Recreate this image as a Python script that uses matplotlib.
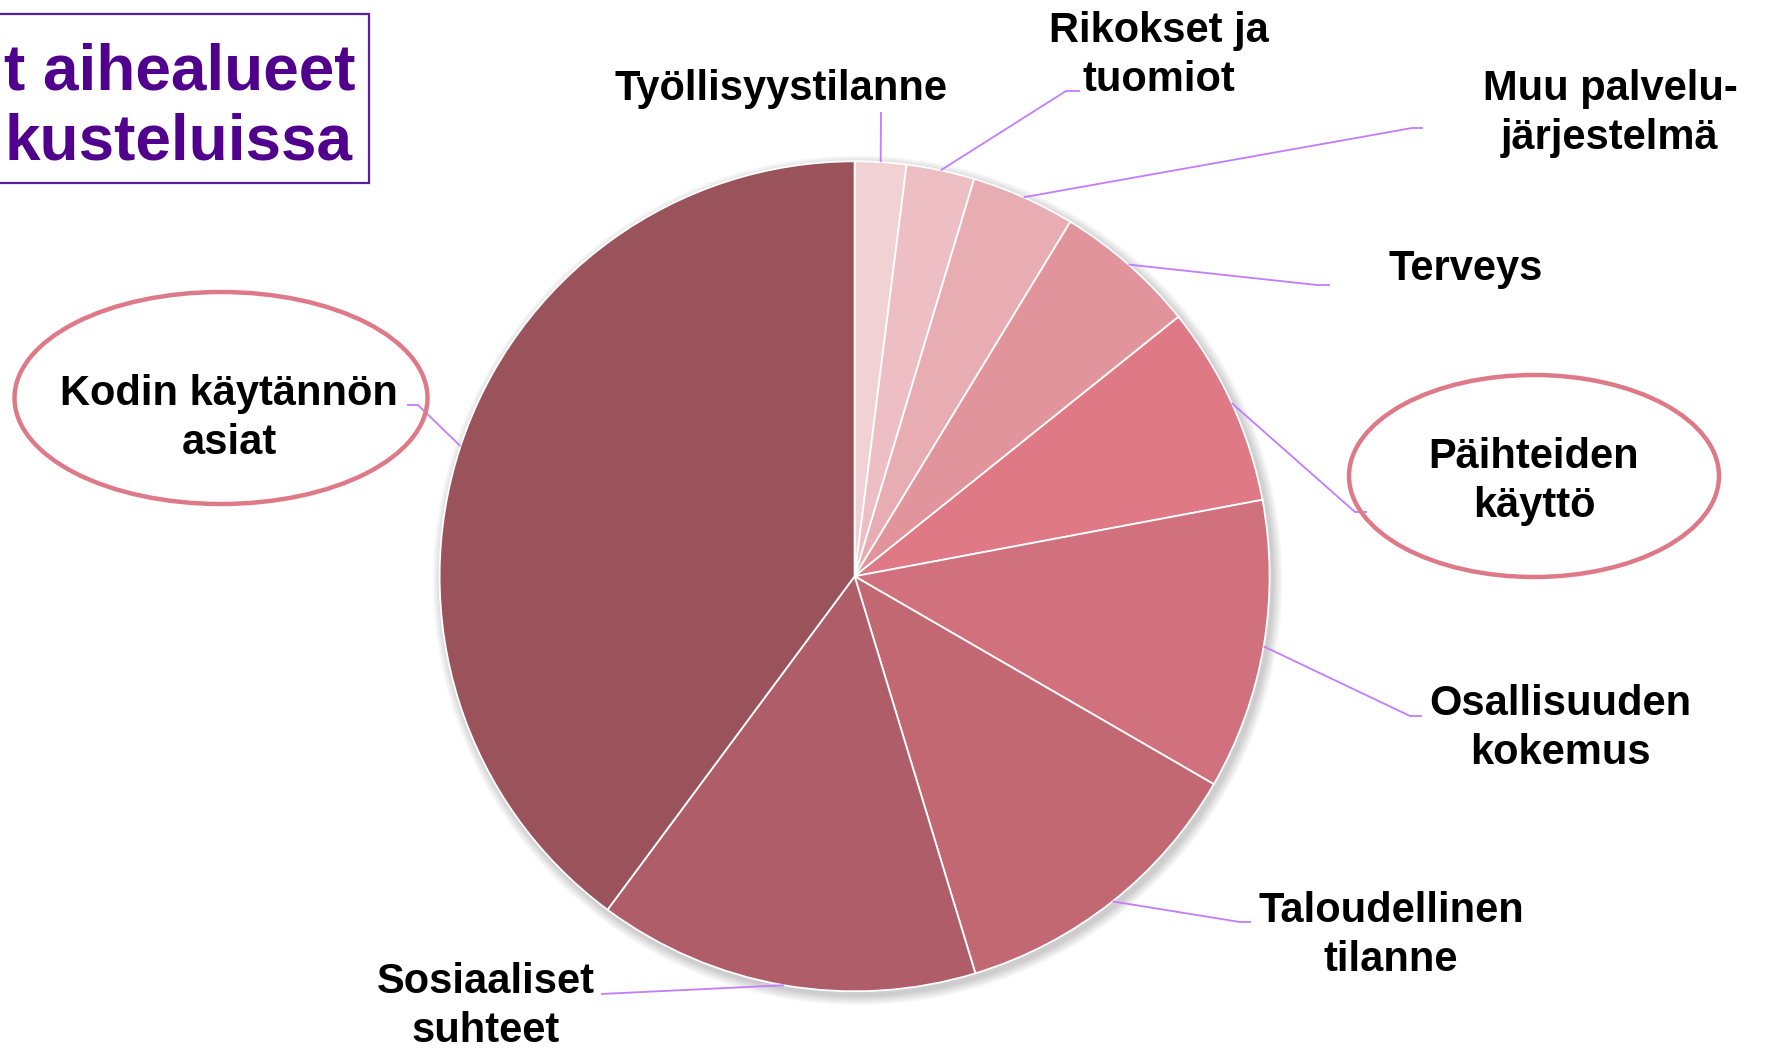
import numpy as np
import matplotlib
matplotlib.use("Agg")
import matplotlib.pyplot as plt
from matplotlib.patches import Ellipse, Rectangle, Circle

W, H = 1767, 1048

# aihealueet, myötäpäivään klo 12:sta alkaen (osuudet %)
categories = ["Työllisyystilanne", "Rikokset ja tuomiot", "Muu palvelujärjestelmä",
              "Terveys", "Päihteiden käyttö", "Osallisuuden kokemus",
              "Taloudellinen tilanne", "Sosiaaliset suhteet", "Kodin käytännön asiat"]
values = [2.0, 2.65, 4.05, 5.55, 7.8, 11.3, 11.95, 14.85, 39.85]
label_lines = [["Työllisyystilanne"], ["Rikokset ja", "tuomiot"], ["Muu palvelu-", "järjestelmä"],
               ["Terveys"], ["Päihteiden", "käyttö"], ["Osallisuuden", "kokemus"],
               ["Taloudellinen", "tilanne"], ["Sosiaaliset", "suhteet"], ["Kodin käytännön", "asiat"]]
highlighted = ["Päihteiden käyttö", "Kodin käytännön asiat"]
title_lines = ["t aihealueet", "kusteluissa"]

colors = ["#F1D1D4", "#EDBFC4", "#E8ADB2", "#E1949B", "#DF7986",
          "#D1717D", "#C16873", "#AF5D69", "#9A525B"]

FONT = "Liberation Sans"
LEADER = "#C27CFF"
RING = "#DE7A87"

# layout in pixels (y measured from top)
cx, cy, R = 854.6, 576.3, 415
label_pos = [(781, 100), (1159, 42), (1610, 100), (1466, 280), (1534, 468),
             (1560, 715), (1391, 922), (486, 993), (229, 405)]
leader_bend = [(881, 112), (1066, 91), (1412, 128), (1317, 285), (1355, 512),
               (1410, 716), (1240, 922), (601, 994), (418, 405)]
leader_end = [(881, 112), (1080, 91), (1423, 128), (1330, 285), (1367, 512),
              (1422, 716), (1251, 922), (601, 994), (407, 405)]
ellipse_geom = {"Päihteiden käyttö": (1534, 476, 370, 202),
                "Kodin käytännön asiat": (221, 398, 413, 212)}
LINE_GAP = 49


def fy(y):
    return H - y


fig = plt.figure(figsize=(W / 100, H / 100), dpi=100)
ax = fig.add_axes([0, 0, 1, 1])

# pehmeä varjo piirakan alla
for k in range(10):
    ax.add_patch(Circle((cx + 3, fy(cy) - 4), R + 10 - k, color="#000000",
                        alpha=0.018, lw=0, zorder=0))

wedges, _ = ax.pie(values, colors=colors, startangle=90, counterclock=False,
                   center=(cx, fy(cy)), radius=R,
                   wedgeprops=dict(edgecolor="white", linewidth=1.3))
for w in wedges:
    w.set_zorder(2)

for i, (w, name) in enumerate(zip(wedges, categories)):
    ang = np.deg2rad((w.theta1 + w.theta2) / 2)
    x0, y0 = cx + R * np.cos(ang), fy(cy) + R * np.sin(ang)
    bx, by = leader_bend[i]
    ex, ey = leader_end[i]
    ax.plot([x0, bx, ex], [y0, fy(by), fy(ey)], color=LEADER, lw=1.3,
            solid_capstyle="butt", zorder=3)
    lx, ly = label_pos[i]
    for j, line in enumerate(label_lines[i]):
        ax.text(lx, fy(ly + j * LINE_GAP), line, ha="center", va="baseline",
                fontsize=30, fontweight="bold", family=FONT, color="black", zorder=4)
    if name in highlighted:
        ex_, ey_, ew, eh = ellipse_geom[name]
        ax.add_patch(Ellipse((ex_, fy(ey_)), ew, eh, fill=False,
                             edgecolor=RING, lw=3.2, zorder=4))

# otsikkolaatikko (rajautuu vasemmasta reunasta)
ax.add_patch(Rectangle((-5, fy(183)), 374, 169, fill=False, edgecolor="#5B1F9E",
                       lw=1.6, zorder=5))
ax.text(4, fy(90), title_lines[0], ha="left", va="baseline", fontsize=46,
        fontweight="bold", family=FONT, color="#50008C", zorder=5)
ax.text(4, fy(160), title_lines[1], ha="left", va="baseline", fontsize=46,
        fontweight="bold", family=FONT, color="#50008C", zorder=5)

ax.set_xlim(0, W)
ax.set_ylim(0, H)
ax.set_aspect("equal")
ax.set_axis_off()

fig.savefig("out.png", dpi=100, facecolor="white")
